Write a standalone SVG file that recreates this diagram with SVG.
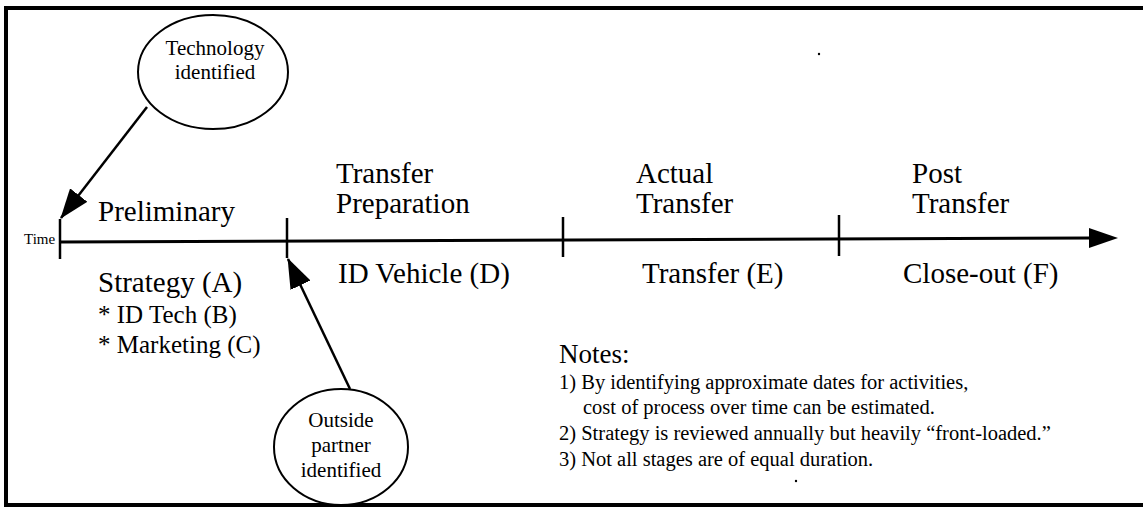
<svg xmlns="http://www.w3.org/2000/svg" width="1143" height="508" viewBox="0 0 1143 508">
  <style>
    .frame { fill: none; stroke: #000; stroke-width: 4; }
    .axis { stroke: #000; stroke-width: 3; fill: none; }
    .tick { stroke: #000; stroke-width: 2.5; }
    .bubble { fill: #fff; stroke: #000; stroke-width: 2; }
    .link { stroke: #000; stroke-width: 2.5; fill: none; marker-end: url(#head); }
    text { font-family: "Liberation Serif", "Times New Roman", serif; fill: #000; }
    .stage { font-size: 29px; }
    .sub { font-size: 25px; }
    .bubble-text { font-size: 21px; text-anchor: middle; }
    .note { font-size: 20.5px; }
    .notes-title { font-size: 27px; }
    .time { font-size: 15px; }
  </style>
  <defs>
    <marker id="head" markerUnits="userSpaceOnUse" markerWidth="30" markerHeight="22" refX="29" refY="11" orient="auto">
      <path d="M0,0 L30,11 L0,22 Z" fill="#000"/>
    </marker>
  </defs>

  <rect width="1143" height="508" fill="#fff"/>

  <!-- page frame, open on the right -->
  <rect class="frame" x="6" y="8" width="1200" height="497"/>

  <!-- time axis -->
  <g id="axis">
    <line class="axis" x1="60" y1="242" x2="1092" y2="238"/>
    <polygon points="1089,228 1118,238 1089,248" fill="#000"/>
    <line class="tick" x1="60" y1="219" x2="60" y2="259"/>
    <line class="tick" x1="287" y1="218" x2="287" y2="258"/>
    <line class="tick" x1="563" y1="217" x2="563" y2="257"/>
    <line class="tick" x1="839" y1="215" x2="839" y2="256"/>
    <text class="time" x="24" y="244">Time</text>
  </g>

  <!-- stages -->
  <g id="stage-preliminary">
    <text class="stage" x="98" y="221">Preliminary</text>
    <text class="stage" x="98" y="292">Strategy (A)</text>
    <text class="sub" x="98" y="323">* ID Tech (B)</text>
    <text class="sub" x="98" y="353">* Marketing (C)</text>
  </g>
  <g id="stage-preparation">
    <text class="stage" x="336" y="183">Transfer</text>
    <text class="stage" x="336" y="213">Preparation</text>
    <text class="stage" x="338" y="283">ID Vehicle (D)</text>
  </g>
  <g id="stage-actual">
    <text class="stage" x="636" y="183">Actual</text>
    <text class="stage" x="636" y="213">Transfer</text>
    <text class="stage" x="642" y="283">Transfer (E)</text>
  </g>
  <g id="stage-post">
    <text class="stage" x="912" y="183">Post</text>
    <text class="stage" x="912" y="213">Transfer</text>
    <text class="stage" x="903" y="283">Close-out (F)</text>
  </g>

  <!-- events -->
  <g id="event-technology">
    <ellipse class="bubble" cx="213" cy="72" rx="75" ry="57"/>
    <text class="bubble-text" x="215" y="55">Technology</text>
    <text class="bubble-text" x="215" y="79">identified</text>
  </g>
  <g id="event-partner">
    <ellipse class="bubble" cx="341" cy="447" rx="67" ry="58"/>
    <text class="bubble-text" x="341" y="427">Outside</text>
    <text class="bubble-text" x="341" y="452">partner</text>
    <text class="bubble-text" x="341" y="477">identified</text>
  </g>

  <g id="connectors">
    <line class="link" x1="147" y1="107" x2="61" y2="218"/>
    <line class="link" x1="350" y1="389" x2="288" y2="259"/>
  </g>

  <!-- notes -->
  <g id="notes">
    <text class="notes-title" x="559" y="363">Notes:</text>
    <text class="note" x="559" y="389">1)  By identifying approximate dates for activities,</text>
    <text class="note" x="583" y="414">cost of process over time can be estimated.</text>
    <text class="note" x="559" y="440">2)  Strategy is reviewed annually but heavily “front-loaded.”</text>
    <text class="note" x="559" y="466">3)  Not all stages are of equal duration.</text>
  </g>

  <circle cx="819" cy="54" r="1.2" fill="#000"/>
  <circle cx="796" cy="481" r="1.2" fill="#000"/>
</svg>
